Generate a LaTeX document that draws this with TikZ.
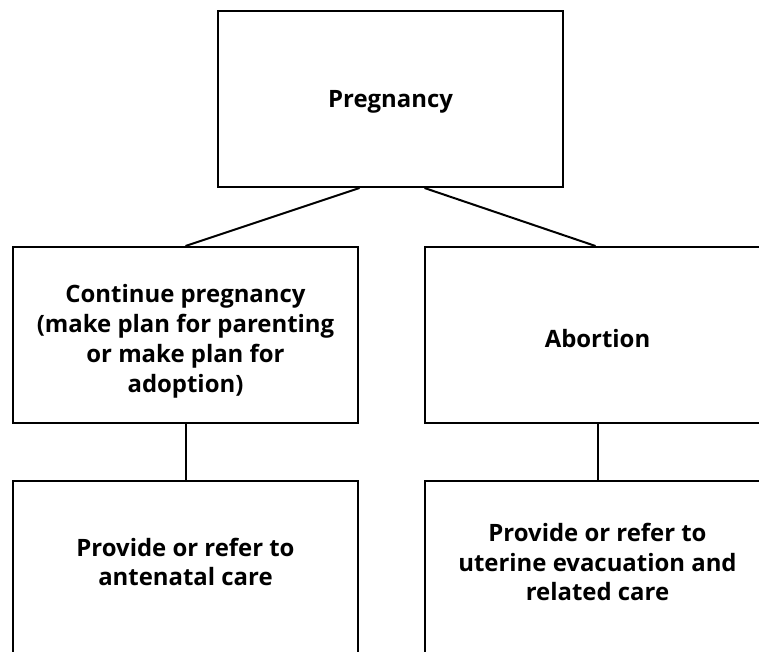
\documentclass[tikz,border=0pt]{standalone}
\usepackage{fontspec}
\setmainfont{Open Sans}
\begin{document}
\begin{tikzpicture}[x=1bp,y=-1bp,
  box/.style={draw, line width=2bp, minimum width=345bp, minimum height=176bp},
  txt/.style={align=center, inner sep=0pt, font=\bfseries\fontsize{24}{30}\selectfont},
  link/.style={line width=2bp}]
\useasboundingbox (0,0) rectangle (759,652);
\clip (0,0) rectangle (759,652);
\node[box] (preg) at (390.5,99) {};
\node[box] (cont) at (185.5,335) {};
\node[box] (abort) at (597.5,335) {};
\node[box] (ante) at (185.5,569) {};
\node[box] (uter) at (597.5,569) {};
\node[txt] (pregT) at ([yshift=-3bp]preg.center) {Pregnancy};
\node[txt] (contT) at ([yshift=-6bp]cont.center) {Continue pregnancy\\(make plan for parenting\\or make plan for\\adoption)};
\node[txt] (abortT) at ([yshift=-4bp]abort.center) {Abortion};
\node[txt] (anteT) at ([yshift=7bp]ante.center) {Provide or refer to\\antenatal care};
\node[txt] (uterT) at ([yshift=7bp]uter.center) {Provide or refer to\\uterine evacuation and\\related care};
\draw[link] ([xshift=-31bp]preg.south) -- (cont.north);
\draw[link] ([xshift=34bp]preg.south) -- ([xshift=-2bp]abort.north);
\draw[link] (cont.south) -- (ante.north);
\draw[link] (abort.south) -- (uter.north);
\end{tikzpicture}
\end{document}
